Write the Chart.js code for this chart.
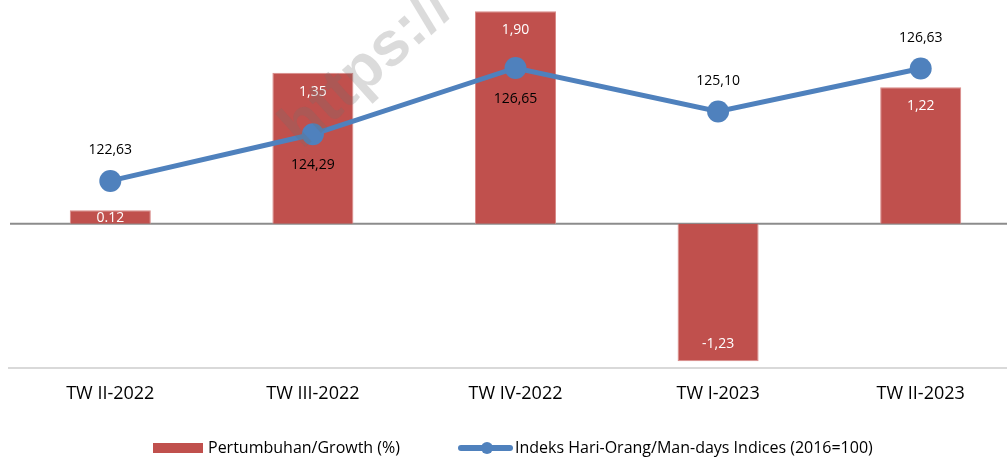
<!DOCTYPE html>
<html>
<head>
<meta charset="utf-8">
<script src="https://cdn.jsdelivr.net/npm/chart.js@4"></script>
<style>
  html, body { margin: 0; padding: 0; background: #fff; overflow: hidden; }
  #wrap { width: 1007px; height: 458px; overflow: hidden; position: relative; }
  #box { width: 1024px; height: 458px; position: absolute; left: 0; top: 0; }
</style>
</head>
<body>
<div id="wrap"><div id="box"><canvas id="chart"></canvas></div></div>
<script>
const categories = ["TW II-2022", "TW III-2022", "TW IV-2022", "TW I-2023", "TW II-2023"];
const growth = [0.12, 1.35, 1.90, -1.23, 1.22];
const growthLabels = ["0.12", "1,35", "1,90", "-1,23", "1,22"];
const indices = [122.63, 124.29, 126.65, 125.10, 126.63];
const indexLabels = ["122,63", "124,29", "126,65", "125,10", "126,63"];
// label above (-1) or below (+1) the point
const indexLabelSide = [-1, 1, 1, -1, -1];

const RED = "#C0504D";
const BLUE = "#4F81BD";
const NARROW = "'Liberation Sans Narrow', 'Open Sans', sans-serif";

const zeroLine = {
  id: "zeroLine",
  beforeDatasetsDraw(chart) {
    const { ctx, chartArea, scales } = chart;
    const y = scales.yBar.getPixelForValue(0);
    ctx.save();
    ctx.strokeStyle = "#8c8c8c";
    ctx.lineWidth = 2;
    ctx.beginPath();
    ctx.moveTo(chartArea.left + 1, y);
    ctx.lineTo(chartArea.right, y);
    ctx.stroke();
    ctx.restore();
  }
};

const labels = {
  id: "labels",
  afterDatasetsDraw(chart) {
    const { ctx } = chart;
    ctx.save();
    ctx.font = "14px 'Open Sans', sans-serif";
    ctx.textAlign = "center";
    ctx.textBaseline = "middle";
    chart.getDatasetMeta(0).data.forEach((bar, i) => {
      ctx.fillStyle = "#fff";
      let y = growth[i] >= 0 ? bar.y + 19 : bar.y - 17;
      if (growth[i] > 0 && growth[i] < 0.5) y = bar.y + 8;
      ctx.fillText(growthLabels[i], bar.x, y);
    });
    chart.getDatasetMeta(1).data.forEach((pt, i) => {
      ctx.fillStyle = "#000";
      ctx.fillText(indexLabels[i], pt.x, pt.y + indexLabelSide[i] * 31);
    });
    // faint watermark
    ctx.translate(302, 150);
    ctx.rotate(-42 * Math.PI / 180);
    ctx.font = "bold 62px 'Liberation Sans', sans-serif";
    ctx.textAlign = "left";
    ctx.textBaseline = "alphabetic";
    ctx.fillStyle = "rgba(110,110,110,0.25)";
    ctx.fillText("https://", 0, 0);
    ctx.restore();
  }
};

const legend = {
  id: "customLegend",
  afterDraw(chart) {
    const { ctx } = chart;
    const y = 448;
    ctx.save();
    ctx.font = "16px " + NARROW;
    ctx.textBaseline = "middle";
    ctx.fillStyle = RED;
    ctx.fillRect(153, y - 5, 50, 10);
    ctx.fillStyle = "#000";
    ctx.fillText(chart.data.datasets[0].label, 208, y);
    ctx.strokeStyle = BLUE;
    ctx.lineWidth = 6;
    ctx.lineCap = "round";
    ctx.beginPath();
    ctx.moveTo(461, y);
    ctx.lineTo(510, y);
    ctx.stroke();
    ctx.fillStyle = BLUE;
    ctx.beginPath();
    ctx.arc(487, y, 6, 0, Math.PI * 2);
    ctx.fill();
    ctx.fillStyle = "#000";
    ctx.fillText(chart.data.datasets[1].label, 515, y);
    ctx.restore();
  }
};

new Chart(document.getElementById("chart"), {
  type: "bar",
  data: {
    labels: categories,
    datasets: [
      {
        type: "bar",
        label: "Pertumbuhan/Growth (%)",
        data: growth,
        yAxisID: "yBar",
        backgroundColor: RED,
        borderColor: "#d98b89",
        borderWidth: 1,
        categoryPercentage: 1,
        barPercentage: 0.4,
        order: 2
      },
      {
        type: "line",
        label: "Indeks Hari-Orang/Man-days Indices (2016=100)",
        data: indices,
        yAxisID: "yLine",
        borderColor: BLUE,
        backgroundColor: BLUE,
        borderWidth: 5,
        pointRadius: 11,
        pointHoverRadius: 11,
        pointBorderWidth: 0,
        tension: 0,
        clip: false,
        order: 1
      }
    ]
  },
  options: {
    responsive: true,
    maintainAspectRatio: false,
    animation: false,
    events: [],
    layout: { autoPadding: false, padding: { left: 9, right: 2, top: 0, bottom: 0 } },
    plugins: { legend: { display: false }, tooltip: { enabled: false } },
    scales: {
      x: {
        grid: { display: false, drawTicks: false },
        border: { display: true, color: "#d9d9d9", width: 2 },
        ticks: { color: "#000", font: { family: NARROW, size: 18 }, padding: 15 },
        afterFit(scale) { scale.height = 90; }
      },
      yBar: { display: false, min: -1.29, max: 2.0 },
      yLine: { display: false, min: 115.97, max: 129.07 }
    }
  },
  plugins: [zeroLine, labels, legend]
});
</script>
</body>
</html>
